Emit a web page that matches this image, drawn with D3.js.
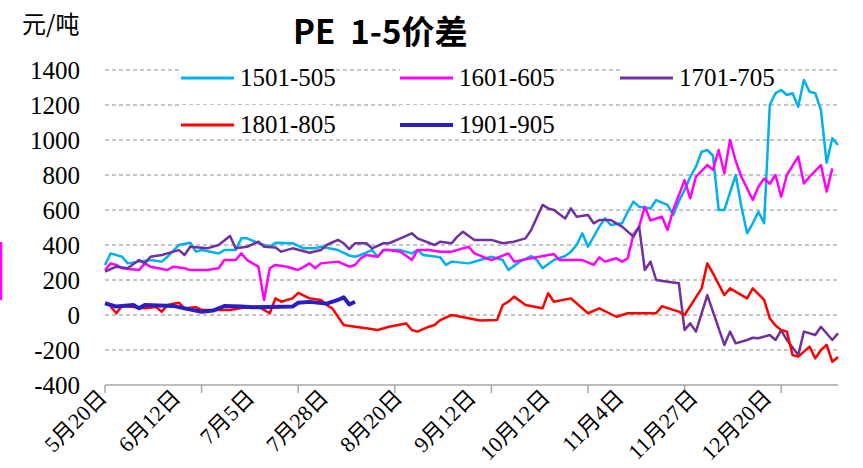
<!DOCTYPE html>
<html>
<head>
<meta charset="utf-8">
<script src="https://cdn.jsdelivr.net/npm/d3@7"></script>
<style>
  body { margin: 0; background: #fff; }
  svg { display: block; }
</style>
</head>
<body>
<div id="chart"></div>
<script>
// category index -> spread (元/吨)
const tickDays = [0, 17, 34, 51, 68, 85, 102, 119];        // tick marks every 17 categories
const labelDays = [0, 13, 26, 39, 52, 65, 78, 91, 104, 117]; // labels every 13 categories
const dateLabels = ["5月20日", "6月12日", "7月5日", "7月28日", "8月20日", "9月12日", "10月12日", "11月4日", "11月27日", "12月20日"];
const yTicks = [-400, -200, 0, 200, 400, 600, 800, 1000, 1200, 1400];

const s1501 = [[0,286],[1,352],[3,333],[4,295],[6,305],[8,314],[10,305],[11,333],[13,400],[15,413],[16,362],[17,371],[20,352],[21,371],[23,371],[24,438],[25,438],[27,410],[29,390],[30,413],[33,410],[35,381],[37,381],[38,390],[41,371],[43,340],[44,333],[45,343],[47,371],[48,333],[49,371],[52,371],[54,352],[55,371],[56,343],[59,330],[60,286],[61,305],[64,295],[66,314],[68,333],[70,314],[71,257],[73,305],[75,337],[76,314],[77,267],[79,314],[81,337],[82,362],[83,400],[84,467],[85,390],[87,505],[88,552],[89,514],[91,524],[92,590],[93,648],[94,619],[96,609],[97,657],[99,629],[100,571],[101,650],[102,714],[103,790],[104,848],[105,933],[106,943],[107,910],[108,600],[109,600],[111,800],[112,619],[113,467],[114,524],[115,590],[116,524],[117,1200],[118,1267],[119,1286],[120,1257],[121,1267],[122,1190],[123,1343],[124,1276],[125,1267],[126,1171],[127,870],[128,1010],[129,971]];
const s1601 = [[0,257],[1,295],[2,286],[3,267],[6,257],[7,295],[8,276],[11,257],[12,276],[14,267],[15,257],[18,257],[20,267],[21,314],[23,314],[24,352],[25,314],[27,276],[28,86],[29,267],[30,286],[32,276],[34,257],[36,295],[37,267],[38,295],[41,305],[43,276],[44,286],[45,324],[46,343],[48,333],[49,371],[50,371],[52,362],[54,314],[55,371],[57,371],[59,362],[61,362],[64,390],[65,352],[68,314],[71,352],[72,305],[75,324],[79,348],[80,314],[84,314],[86,286],[87,330],[88,305],[90,324],[91,305],[92,324],[93,460],[94,505],[95,619],[96,540],[98,562],[99,486],[100,600],[102,771],[103,667],[104,790],[106,857],[107,829],[108,943],[109,810],[110,1000],[111,880],[112,790],[114,657],[115,733],[116,780],[117,750],[118,800],[119,676],[120,800],[122,905],[123,752],[124,790],[126,857],[127,705],[128,838]];
const s1701 = [[0,248],[2,276],[4,267],[6,314],[7,295],[8,333],[10,343],[11,352],[13,371],[14,343],[15,390],[18,381],[20,400],[22,451],[23,381],[25,390],[27,419],[28,390],[30,386],[31,362],[33,381],[36,356],[38,371],[39,400],[41,429],[42,410],[43,376],[44,410],[46,410],[47,381],[49,410],[50,410],[52,438],[54,467],[55,438],[58,400],[59,419],[61,410],[62,448],[63,476],[65,429],[68,429],[70,410],[72,419],[74,438],[75,486],[77,629],[78,609],[79,600],[81,552],[82,609],[83,562],[85,571],[86,524],[87,543],[89,543],[91,505],[93,448],[94,505],[95,257],[96,305],[97,200],[99,190],[101,181],[102,-86],[103,-48],[104,-95],[106,114],[109,-171],[110,-95],[111,-162],[113,-143],[114,-130],[115,-133],[117,-114],[118,-143],[119,-86],[120,-143],[122,-229],[123,-95],[125,-114],[126,-67],[128,-143],[129,-105]];
const s1801 = [[1,48],[2,10],[3,51],[5,45],[7,38],[9,45],[10,19],[11,57],[13,70],[14,38],[16,45],[17,29],[20,29],[22,29],[24,40],[27,48],[29,10],[30,95],[31,76],[33,95],[34,127],[36,95],[38,86],[39,57],[40,38],[42,-57],[44,-67],[46,-76],[48,-86],[50,-67],[53,-48],[54,-86],[55,-95],[57,-67],[58,-57],[59,-29],[61,0],[64,-19],[66,-32],[69,-29],[70,57],[71,76],[72,105],[74,57],[77,38],[78,124],[79,76],[82,95],[85,10],[87,38],[90,-10],[92,10],[97,10],[98,50],[100,29],[101,19],[102,0],[105,152],[106,295],[107,238],[109,114],[110,152],[113,95],[114,152],[116,86],[117,-19],[118,-60],[119,-86],[120,-95],[121,-229],[122,-238],[124,-181],[125,-248],[126,-200],[127,-171],[128,-267],[129,-240]];
const s1901 = [[0,67],[2,48],[5,57],[6,38],[7,57],[12,52],[14,38],[17,19],[19,25],[21,51],[24,48],[26,44],[33,48],[34,70],[36,75],[39,65],[41,86],[42,101],[43,60],[44,76]];

const seriesNames = ["1501-505", "1601-605", "1701-705", "1801-805", "1901-905"];
const seriesColors = ["#00B0F0", "#FF00FF", "#7030A0", "#FF0000", "#2A1DC4"];
const seriesData = [s1501, s1601, s1701, s1801, s1901];

const width = 863, height = 468;
const svg = d3.select("#chart").append("svg")
    .attr("width", width)
    .attr("height", height);

const x = d3.scaleLinear().domain([0, 129]).range([105, 838]);
const y = d3.scaleLinear().domain([-400, 1400]).range([385, 70]);

const serif = "'Liberation Serif', 'Times New Roman', 'Noto Sans CJK SC', serif";

// edge fragment from the neighbouring chart
svg.append("line")
    .attr("x1", 1).attr("x2", 1).attr("y1", 242).attr("y2", 300)
    .attr("stroke", "#FF00FF").attr("stroke-width", 2.5);

// gridlines
svg.append("g")
    .selectAll("line")
    .data(yTicks.filter(d => d > -400))
    .join("line")
    .attr("x1", x(0)).attr("x2", x(129))
    .attr("y1", d => y(d)).attr("y2", d => y(d))
    .attr("stroke", "#8c8c8c")
    .attr("stroke-width", 1.2)
    .attr("stroke-dasharray", "4,3");

// y labels
svg.append("g")
    .selectAll("text")
    .data(yTicks)
    .join("text")
    .attr("x", 80)
    .attr("y", d => y(d))
    .attr("dy", "0.35em")
    .attr("text-anchor", "end")
    .style("font-family", serif)
    .style("font-size", "25px")
    .attr("fill", "#000")
    .text(d => d);

// x axis
svg.append("line")
    .attr("x1", x(0)).attr("x2", x(129))
    .attr("y1", y(-400)).attr("y2", y(-400))
    .attr("stroke", "#a6a6a6").attr("stroke-width", 1.5);

svg.append("g")
    .selectAll("line")
    .data(tickDays)
    .join("line")
    .attr("x1", d => x(d)).attr("x2", d => x(d))
    .attr("y1", y(-400)).attr("y2", y(-400) + 8)
    .attr("stroke", "#a6a6a6").attr("stroke-width", 1.5);

svg.append("g")
    .selectAll("text")
    .data(labelDays)
    .join("text")
    .attr("transform", d => `translate(${x(d) + 3},${y(-400) + 14}) rotate(-45)`)
    .attr("text-anchor", "end")
    .style("font-family", serif)
    .style("font-size", "22px")
    .attr("fill", "#000")
    .text((d, i) => dateLabels[i]);

// series
const line = d3.line()
    .x(d => x(d[0]))
    .y(d => y(d[1]));

svg.append("g")
    .selectAll("path")
    .data(seriesData)
    .join("path")
    .attr("d", line)
    .attr("fill", "none")
    .attr("stroke", (d, i) => seriesColors[i])
    .attr("stroke-width", (d, i) => i === 4 ? 4 : 2.5)
    .attr("stroke-linejoin", "round");

// legend
const legendPos = [[181, 78], [400, 78], [620, 78], [181, 125], [400, 125]];
const legend = svg.append("g")
    .selectAll("g")
    .data(seriesNames)
    .join("g")
    .attr("transform", (d, i) => `translate(${legendPos[i][0]},${legendPos[i][1]})`);

legend.append("rect")
    .attr("x", 0).attr("y", -20).attr("width", 150).attr("height", 34)
    .attr("fill", "#fff");

legend.append("line")
    .attr("x1", 0).attr("x2", 53)
    .attr("stroke", (d, i) => seriesColors[i])
    .attr("stroke-width", (d, i) => i === 4 ? 4 : 3);

legend.append("text")
    .attr("x", 59)
    .attr("y", 8)
    .style("font-family", serif)
    .style("font-size", "25px")
    .attr("fill", "#000")
    .text(d => d);

// title and unit
svg.append("text")
    .attr("x", 293)
    .attr("y", 44)
    .style("font-family", "'Noto Sans CJK SC', 'Liberation Sans', sans-serif")
    .style("font-size", "33px")
    .style("font-weight", "bold")
    .style("white-space", "pre")
    .attr("fill", "#000")
    .text("PE  1-5价差");

svg.append("text")
    .attr("x", 22)
    .attr("y", 33)
    .style("font-family", "'Noto Sans CJK SC', sans-serif")
    .style("font-size", "24px")
    .attr("fill", "#000")
    .text("元/吨");
</script>
</body>
</html>
